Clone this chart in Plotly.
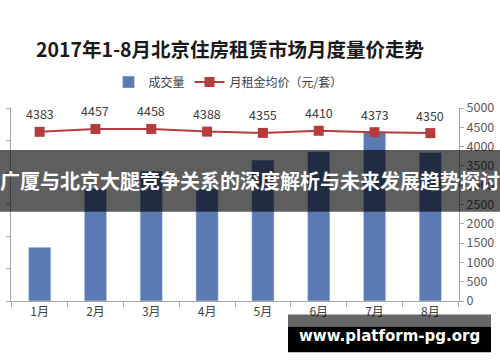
import plotly.graph_objects as go

months = ["1月", "2月", "3月", "4月", "5月", "6月", "7月", "8月"]
volume = [8360, 17500, 20200, 17500, 21900, 23200, 26300, 23100]
price = [4383, 4457, 4458, 4388, 4355, 4410, 4373, 4350]

W, H = 500, 362
L, R, T, B = 11, 41, 108, 60.5
PW, PH = W - L - R, H - T - B

def px(x):
    return (x - L) / PW

def py(y):
    return (H - B - y) / PH

FONT = "Noto Sans CJK SC"
AXIS = "#a6a6a6"

fig = go.Figure()
fig.add_trace(go.Bar(
    x=months, y=volume, name="成交量", marker_color="#5b79b3",
    yaxis="y", width=0.4,
))
fig.add_trace(go.Scatter(
    x=months, y=price, name="月租金均价（元/套）", yaxis="y2",
    mode="lines+markers", line=dict(color="#b33d3c", width=2),
    marker=dict(symbol="square", size=10, color="#b33d3c"),
))

annotations = []
for m, p in zip(months, price):
    annotations.append(dict(
        x=m, y=p, xref="x", yref="y2", text=str(p), showarrow=False,
        yshift=18, font=dict(family=FONT, size=12.5, color="#404040"),
    ))

annotations.append(dict(
    x=px(250), y=py(181), xref="paper", yref="paper",
    text="广厦与北京大腿竞争关系的深度解析与未来发展趋势探讨", showarrow=False,
    font=dict(family=FONT, size=20, color="white", weight="bold"),
    xanchor="center", yanchor="middle",
))
annotations.append(dict(
    x=px(389), y=py(337), xref="paper", yref="paper",
    text="www.platform-pg.org", showarrow=False,
    font=dict(family="DejaVu Sans", size=15, color="white", weight="bold"),
    xanchor="center", yanchor="middle",
))

shapes = [
    dict(type="rect", xref="paper", yref="paper", layer="above",
         x0=px(-5), x1=px(505), y0=py(212), y1=py(150),
         fillcolor="rgba(0,0,0,0.63)", line=dict(width=0)),
    dict(type="rect", xref="paper", yref="paper", layer="above",
         x0=px(288), x1=px(491), y0=py(327), y1=py(315),
         fillcolor="rgba(0,0,0,0.6)", line=dict(width=0)),
    dict(type="rect", xref="paper", yref="paper", layer="above",
         x0=px(288), x1=px(491), y0=py(353), y1=py(327),
         fillcolor="black", line=dict(width=0)),
]

fig.update_layout(
    width=W, height=H,
    margin=dict(l=L, r=R, t=T, b=B),
    paper_bgcolor="white", plot_bgcolor="white",
    title=dict(text="2017年1-8月北京住房租赁市场月度量价走势",
               x=230 / W, y=1 - 50 / H, xanchor="center", yanchor="middle",
               font=dict(family=FONT, size=19.5, color="#1a1a1a", weight="bold")),
    legend=dict(orientation="h", x=px(228), y=py(82), xanchor="center",
                yanchor="middle", font=dict(family=FONT, size=12, color="#404040"),
                bgcolor="rgba(0,0,0,0)", itemwidth=30, tracegroupgap=0),
    showlegend=True,
    xaxis=dict(type="category", tickson="boundaries", ticks="outside",
               ticklen=5, tickcolor=AXIS, showline=True, linecolor=AXIS,
               showgrid=False, automargin=False,
               tickfont=dict(family=FONT, size=12, color="#404040")),
    yaxis=dict(range=[0, 30000], dtick=5000, showticklabels=False,
               ticks="outside", ticklen=4, tickcolor=AXIS, showline=True,
               linecolor=AXIS, showgrid=False, zeroline=False, automargin=False),
    yaxis2=dict(range=[0, 5000], dtick=500, overlaying="y", side="right",
                ticks="outside", ticklen=4, tickcolor=AXIS, showline=True,
                linecolor=AXIS, showgrid=False, zeroline=False, automargin=False,
                tickfont=dict(family=FONT, size=12.5, color="#595959")),
    bargap=0.6,
    annotations=annotations,
    shapes=shapes,
)

fig.write_html("out.html", config={"displayModeBar": False},
               post_script="document.body.style.margin='0';document.body.style.overflow='hidden';")
